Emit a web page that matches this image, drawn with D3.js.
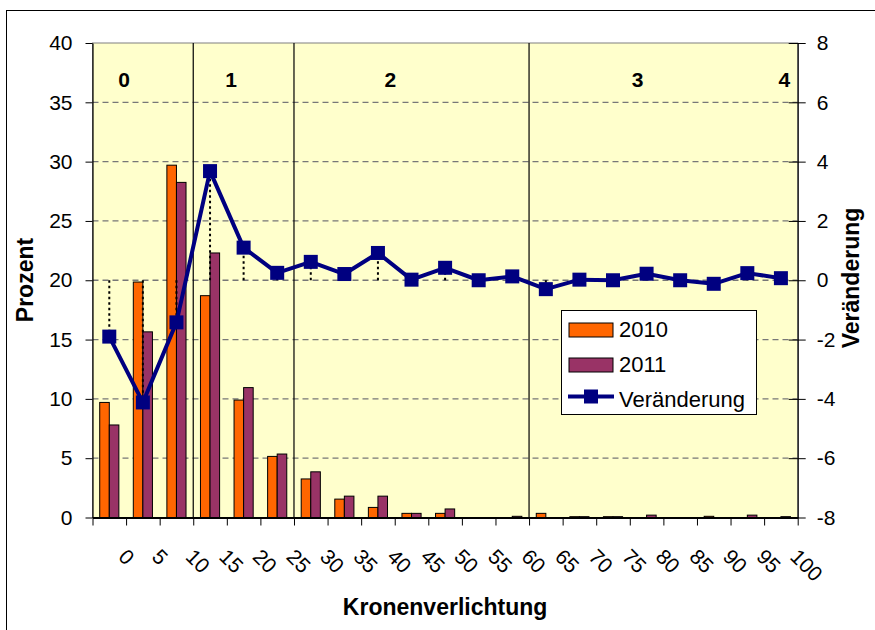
<!DOCTYPE html>
<html>
<head>
<meta charset="utf-8">
<script src="https://cdn.jsdelivr.net/npm/d3@7"></script>
<style>
  html, body { margin: 0; padding: 0; background: #fff; }
  svg { display: block; font-family: "Liberation Sans", Arial, sans-serif; }
</style>
</head>
<body>
<svg id="chart" width="875" height="630"></svg>
<script>
// ---- data ----
const categories = ["0","5","10","15","20","25","30","35","40","45","50","55","60","65","70","75","80","85","90","95","100"];
const values2010 = [9.7, 19.85, 29.7, 18.7, 9.9, 5.15, 3.25, 1.55, 0.85, 0.35, 0.35, 0, 0, 0.35, 0.07, 0.07, 0, 0, 0.1, 0, 0];
const values2011 = [7.8, 15.65, 28.25, 22.3, 10.95, 5.35, 3.85, 1.8, 1.8, 0.35, 0.72, 0, 0.1, 0, 0.07, 0.07, 0.2, 0, 0, 0.2, 0.07];
const changes    = [-1.9, -4.12, -1.42, 3.68, 1.1, 0.25, 0.62, 0.21, 0.92, 0.02, 0.42, 0.0, 0.13, -0.3, 0.02, 0.0, 0.22, 0.0, -0.12, 0.24, 0.07];
const leftTicks  = [0, 5, 10, 15, 20, 25, 30, 35, 40];
const rightTicks = [-8, -6, -4, -2, 0, 2, 4, 6, 8];
const classLabels = ["0", "1", "2", "3", "4"];
const classLabelPos = [0.94, 4.13, 8.87, 16.23, 20.6];   // in category units
const classBoundaries = [3, 6, 13];                       // in category units
const seriesNames = ["2010", "2011", "Veränderung"];
const colors = { y2010: "#FF6600", y2011: "#993366", change: "#000080", plotBg: "#FFFFCC" };

// ---- layout ----
const svg = d3.select("#chart");
const M = { left: 92.5, right: 797.7, top: 43, bottom: 517.5 };

svg.append("rect").attr("x", 6.5).attr("y", 10.5).attr("width", 900).attr("height", 700)
  .attr("fill", "#fff").attr("stroke", "#000").attr("stroke-width", 1);

const x = d3.scaleBand().domain(categories).range([M.left, M.right]).padding(0);
const xi = d3.scaleLinear().domain([0, categories.length]).range([M.left, M.right]);
const yL = d3.scaleLinear().domain([0, 40]).range([M.bottom, M.top]);
const yR = d3.scaleLinear().domain([-8, 8]).range([M.bottom, M.top]);

// plot background
svg.append("rect").attr("x", M.left).attr("y", M.top)
  .attr("width", M.right - M.left).attr("height", M.bottom - M.top)
  .attr("fill", colors.plotBg).attr("stroke", "#808080").attr("stroke-width", 1);

// gridlines
svg.append("g").selectAll("line").data(leftTicks.filter(d => d > 0 && d < 40)).join("line")
  .attr("x1", M.left).attr("x2", M.right)
  .attr("y1", d => yL(d)).attr("y2", d => yL(d))
  .attr("stroke", "#777").attr("stroke-width", 1.3).attr("stroke-dasharray", "6,4");

// class separators
svg.append("g").selectAll("line").data(classBoundaries).join("line")
  .attr("x1", d => xi(d)).attr("x2", d => xi(d))
  .attr("y1", M.top).attr("y2", M.bottom)
  .attr("stroke", "#000").attr("stroke-width", 1.2);

// class labels
svg.append("g").selectAll("text").data(classLabels).join("text")
  .attr("x", (d, i) => xi(classLabelPos[i])).attr("y", 87)
  .attr("text-anchor", "middle").attr("font-size", 21).attr("font-weight", "bold")
  .text(d => d);

// bars
const bw = x.bandwidth() * 0.285;
const barG = svg.append("g");
barG.selectAll("rect.b2010").data(values2010).join("rect")
  .attr("x", (d, i) => x(categories[i]) + x.bandwidth() / 2 - bw)
  .attr("y", d => yL(d)).attr("width", bw).attr("height", d => yL(0) - yL(d))
  .attr("fill", colors.y2010).attr("stroke", "#000").attr("stroke-width", 1)
  .style("display", d => d > 0 ? null : "none");
barG.selectAll("rect.b2011").data(values2011).join("rect")
  .attr("x", (d, i) => x(categories[i]) + x.bandwidth() / 2)
  .attr("y", d => yL(d)).attr("width", bw).attr("height", d => yL(0) - yL(d))
  .attr("fill", colors.y2011).attr("stroke", "#000").attr("stroke-width", 1)
  .style("display", d => d > 0 ? null : "none");

// axes
const fmt = d => String(d);
const axL = svg.append("g").attr("transform", `translate(${M.left},0)`)
  .call(d3.axisLeft(yL).tickValues(leftTicks).tickFormat(fmt).tickSize(7).tickPadding(13).tickSizeOuter(0));
const axR = svg.append("g").attr("transform", `translate(${M.right},0)`)
  .call(d3.axisRight(yR).tickValues(rightTicks).tickFormat(fmt).tickSize(8).tickPadding(11).tickSizeOuter(0));
axR.selectAll(".tick line").attr("x1", -9);
const axB = svg.append("g").attr("transform", `translate(0,${M.bottom})`)
  .call(d3.axisBottom(xi).tickValues(d3.range(categories.length + 1)).tickSize(8).tickFormat("").tickSizeOuter(0));
[axL, axR, axB].forEach(a => {
  a.selectAll("path.domain").attr("stroke", "#000").attr("stroke-width", 1.4);
  a.selectAll(".tick line").attr("stroke", "#000");
  a.selectAll(".tick text").attr("font-size", 21).attr("fill", "#000")
    .attr("font-family", "'Liberation Sans', Arial, sans-serif");
});
axL.select("path.domain").attr("stroke-width", 1.2);
axR.select("path.domain").attr("stroke-width", 1.2);
axB.select("path.domain").attr("stroke-width", 2);

// x category labels (rotated)
svg.append("g").selectAll("text").data(categories).join("text")
  .attr("transform", d => `translate(${x(d) + x.bandwidth() / 2 + 8},558) rotate(45)`)
  .attr("text-anchor", "start").attr("font-size", 21)
  .text(d => d);

// dotted drop lines from 0 to the change value
svg.append("g").selectAll("line").data(changes).join("line")
  .attr("x1", (d, i) => x(categories[i]) + x.bandwidth() / 2)
  .attr("x2", (d, i) => x(categories[i]) + x.bandwidth() / 2)
  .attr("y1", yR(0)).attr("y2", d => yR(d))
  .attr("stroke", "#000").attr("stroke-width", 2).attr("stroke-dasharray", "2.5,3");

// change line
const line = d3.line().x((d, i) => x(categories[i]) + x.bandwidth() / 2).y(d => yR(d));
svg.append("path").datum(changes).attr("d", line)
  .attr("fill", "none").attr("stroke", colors.change).attr("stroke-width", 4).attr("stroke-linejoin", "round");
const ms = 14;
svg.append("g").selectAll("rect").data(changes).join("rect")
  .attr("x", (d, i) => x(categories[i]) + x.bandwidth() / 2 - ms / 2)
  .attr("y", d => yR(d) - ms / 2).attr("width", ms).attr("height", ms)
  .attr("fill", colors.change);

// axis titles
svg.append("text").attr("transform", "translate(33,280) rotate(-90)")
  .attr("text-anchor", "middle").attr("font-size", 23).attr("font-weight", "bold").text("Prozent");
svg.append("text").attr("transform", "translate(859,278) rotate(-90)")
  .attr("text-anchor", "middle").attr("font-size", 23).attr("font-weight", "bold").text("Veränderung");
svg.append("text").attr("x", (M.left + M.right) / 2).attr("y", 615)
  .attr("text-anchor", "middle").attr("font-size", 23).attr("font-weight", "bold").text("Kronenverlichtung");

// legend
const lg = svg.append("g").attr("transform", "translate(561,310)");
lg.append("rect").attr("x", 0.5).attr("y", 0.5).attr("width", 195).attr("height", 104)
  .attr("fill", "#fff").attr("stroke", "#000").attr("stroke-width", 1);
const swatchColors = [colors.y2010, colors.y2011];
swatchColors.forEach((c, i) => {
  lg.append("rect").attr("x", 8).attr("y", 13 + i * 35).attr("width", 44).attr("height", 14)
    .attr("fill", c).attr("stroke", "#000").attr("stroke-width", 1);
});
lg.append("line").attr("x1", 7).attr("x2", 53).attr("y1", 86.5).attr("y2", 86.5)
  .attr("stroke", colors.change).attr("stroke-width", 4);
lg.append("rect").attr("x", 30 - ms / 2).attr("y", 86.5 - ms / 2).attr("width", ms).attr("height", ms)
  .attr("fill", colors.change);
lg.selectAll("text").data(seriesNames).join("text")
  .attr("x", 58).attr("y", (d, i) => 27 + i * 35)
  .attr("font-size", 22).text(d => d);
</script>
</body>
</html>
